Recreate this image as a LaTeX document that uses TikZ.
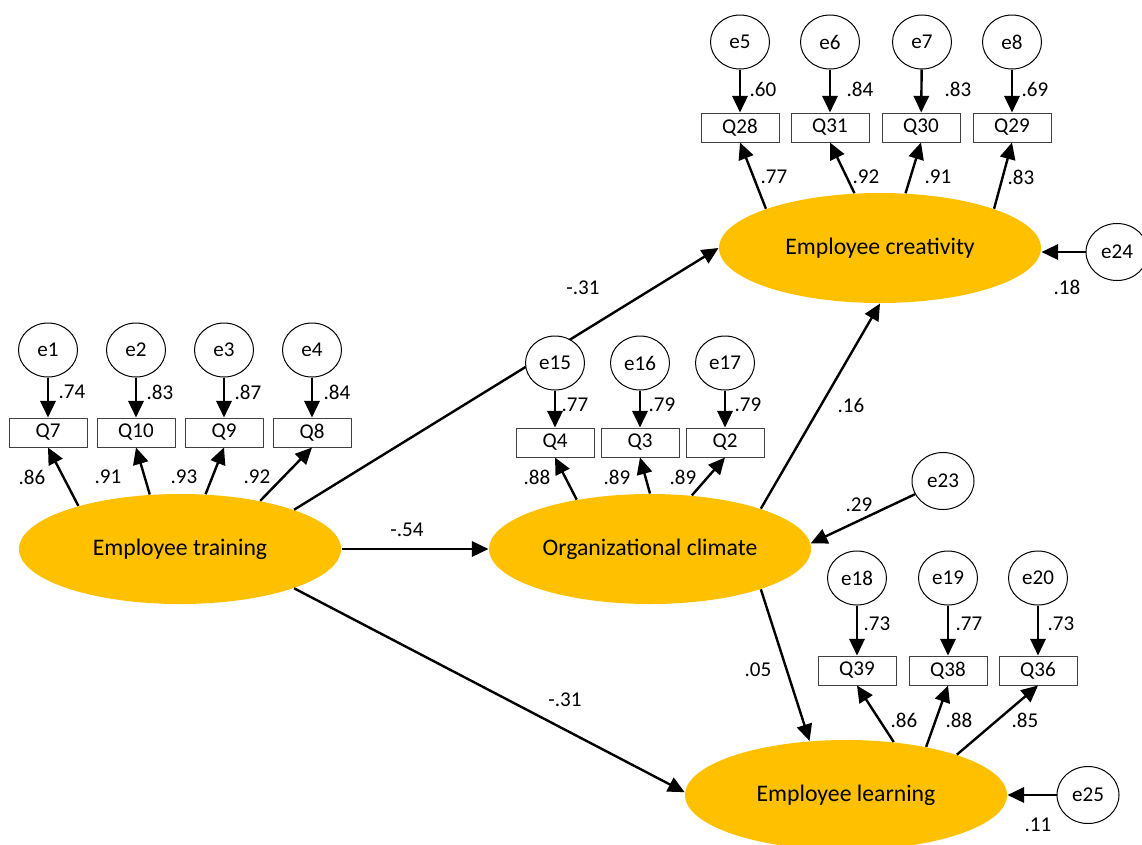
\documentclass[tikz,border=0pt]{standalone}
\usepackage{fontspec}
\setmainfont{Carlito}
\usetikzlibrary{shapes.geometric,arrows.meta}

\tikzset{every picture/.style={line width=0.75pt}}
\tikzset{
	latent/.style={ellipse, draw=none, fill={rgb, 255:red, 255; green, 192; blue, 0 }, minimum width=241.5pt, minimum height=82.5pt, inner sep=0pt, font=\fontsize{17.8}{20}\selectfont},
	err/.style={ellipse, draw, fill=white, minimum width=44.25pt, minimum height=40.5pt, inner sep=0pt, font=\fontsize{15.8}{18}\selectfont},
	errd/.style={err, minimum width=46.5pt, minimum height=42.75pt},
	item/.style={rectangle, draw={rgb, 255:red, 64; green, 64; blue, 64 }, fill=white, minimum width=58.5pt, minimum height=21.75pt, inner sep=0pt, font=\fontsize{15.8}{18}\selectfont},
	coef/.style={inner sep=0.75pt, font=\fontsize{15.8}{18}\selectfont},
	effect/.style={line width=1.8pt, -{Triangle[length=12.5pt,width=11.5pt]}},
}

\begin{document}
\begin{tikzpicture}[x=0.75pt,y=0.75pt,yscale=-1,xscale=1]
	\useasboundingbox (0,0) rectangle (1142,844);

	%Shape: Ellipse (latent variables)
	\node [latent] (ET) at (180,549) {Employee training};
	\node [latent] (OC) at (650,549) {Organizational climate};
	\node [latent] (EC) at (880,248) {Employee creativity};
	\node [latent] (EL) at (846,795) {Employee learning};

	%Straight Lines (structural paths)
	\draw [effect] (ET.19.5) -- (EC.west) ;
	\draw [effect] (ET.east) -- (OC.west) ;
	\draw [effect] (ET.341) -- (EL.179) ;
	\draw [effect] (OC.20) -- (EC.south) ;
	\draw [effect] (OC.340) -- (EL.124) ;

	%Shape: Rectangle (items)
	\node [item] (Q7) at (48,432.5) {Q7};
	\node [item] (Q10) at (136,432.5) {Q10};
	\node [item] (Q9) at (224,432.5) {Q9};
	\node [item] (Q8) at (312,432.5) {Q8};
	\node [item] (Q4) at (555,442.5) {Q4};
	\node [item] (Q3) at (640,442.5) {Q3};
	\node [item] (Q2) at (725,442.5) {Q2};
	\node [item] (Q28) at (740,127.5) {Q28};
	\node [item] (Q31) at (830,127.5) {Q31};
	\node [item] (Q30) at (921,127.5) {Q30};
	\node [item] (Q29) at (1012,127.5) {Q29};
	\node [item] (Q39) at (857,670.5) {Q39};
	\node [item] (Q38) at (948,670.5) {Q38};
	\node [item] (Q36) at (1038,670.5) {Q36};

	%Shape: Circle (errors)
	\node [err] (e1) at (48,350) {e1};
	\node [err] (e2) at (136,350) {e2};
	\node [err] (e3) at (224,350) {e3};
	\node [err] (e4) at (312,350) {e4};
	\node [err] (e15) at (555,363) {e15};
	\node [err] (e16) at (640,363) {e16};
	\node [err] (e17) at (725,363) {e17};
	\node [err] (e5) at (740,42) {e5};
	\node [err] (e6) at (830,42) {e6};
	\node [err] (e7) at (922,42) {e7};
	\node [err] (e8) at (1012,42) {e8};
	\node [err] (e18) at (857,578) {e18};
	\node [err] (e19) at (948,578) {e19};
	\node [err] (e20) at (1038,578) {e20};
	\node [errd] (e23) at (943,481) {e23};
	\node [errd] (e24) at (1117,252) {e24};
	\node [errd] (e25) at (1088,795) {e25};

	%Straight Lines (errors to items)
	\draw [effect] (e1) -- (Q7) ;
	\draw [effect] (e2) -- (Q10) ;
	\draw [effect] (e3) -- (Q9) ;
	\draw [effect] (e4) -- (Q8) ;
	\draw [effect] (e15) -- (Q4) ;
	\draw [effect] (e16) -- (Q3) ;
	\draw [effect] (e17) -- (Q2) ;
	\draw [effect] (e5) -- (Q28) ;
	\draw [effect] (e6) -- (Q31) ;
	\draw [effect] (e7) -- (Q30) ;
	\draw [effect] (e8) -- (Q29) ;
	\draw [effect] (e18) -- (Q39) ;
	\draw [effect] (e19) -- (Q38) ;
	\draw [effect] (e20) -- (Q36) ;
	\draw [effect] (e23) -- (OC.2) ;
	\draw [effect] (e24.west) -- (e24.west -| EC.east) ;
	\draw [effect] (e25) -- (EL) ;

	%Straight Lines (loadings)
	\draw [effect] (ET.157) -- (Q7.south) ;
	\draw [effect] (ET.119) -- (Q10.south) ;
	\draw [effect] (ET.65) -- (Q9.south) ;
	\draw [effect] (ET.31.5) -- (Q8.south) ;
	\draw [effect] (OC.146.5) -- (Q4.south) ;
	\draw [effect] (OC.90) -- (Q3.south) ;
	\draw [effect] (OC.52.5) -- (Q2.south) ;
	\draw [effect] (EC.161) -- (Q28.south) ;
	\draw [effect] (EC.115) -- (Q31.south) ;
	\draw [effect] (EC.65) -- (Q30.south) ;
	\draw [effect] (EC.19) -- (Q29.south) ;
	\draw [effect] (EL.48) -- (Q39.south) ;
	\draw [effect] (EL.31) -- (Q38.south) ;
	\draw [effect] (EL.20) -- (Q36.south) ;

	% Text Node (error variances)
	\node [coef] (r1) at (72,392) {.74};
	\node [coef] (r2) at (160,392) {.83};
	\node [coef] (r3) at (248,392) {.87};
	\node [coef] (r4) at (337,392) {.84};
	\node [coef] (r15) at (575,405) {.77};
	\node [coef] (r16) at (662,405) {.79};
	\node [coef] (r17) at (748,405) {.79};
	\node [coef] (r5) at (763,89) {.60};
	\node [coef] (r6) at (860,89) {.84};
	\node [coef] (r7) at (958,89) {.83};
	\node [coef] (r8) at (1035,89) {.69};
	\node [coef] (r18) at (877,624) {.73};
	\node [coef] (r19) at (969,624) {.77};
	\node [coef] (r20) at (1061,624) {.73};
	\node [coef] (r24) at (1067,287) {.18};
	\node [coef] (r25) at (1038,825) {.11};
	\node [coef] (r23) at (859,505) {.29};

	% Text Node (loadings)
	\node [coef] (l7) at (32,477) {.86};
	\node [coef] (l10) at (108,477) {.91};
	\node [coef] (l9) at (184,477) {.93};
	\node [coef] (l8) at (257,477) {.92};
	\node [coef] (l4) at (537,477) {.88};
	\node [coef] (l3) at (617,477) {.89};
	\node [coef] (l2) at (683,477) {.89};
	\node [coef] (l28) at (774,177) {.77};
	\node [coef] (l31) at (866,177) {.92};
	\node [coef] (l30) at (938,177) {.91};
	\node [coef] (l29) at (1021,177) {.83};
	\node [coef] (l39) at (904,720) {.86};
	\node [coef] (l38) at (959,720) {.88};
	\node [coef] (l36) at (1025,720) {.85};

	% Text Node (path coefficients)
	\node [coef] (pTC) at (583,288) {-.31};
	\node [coef] (pTO) at (407,530) {-.54};
	\node [coef] (pTL) at (565,700) {-.31};
	\node [coef] (pOC) at (851,405) {.16};
	\node [coef] (pOL) at (758,670) {.05};
\end{tikzpicture}
\end{document}
